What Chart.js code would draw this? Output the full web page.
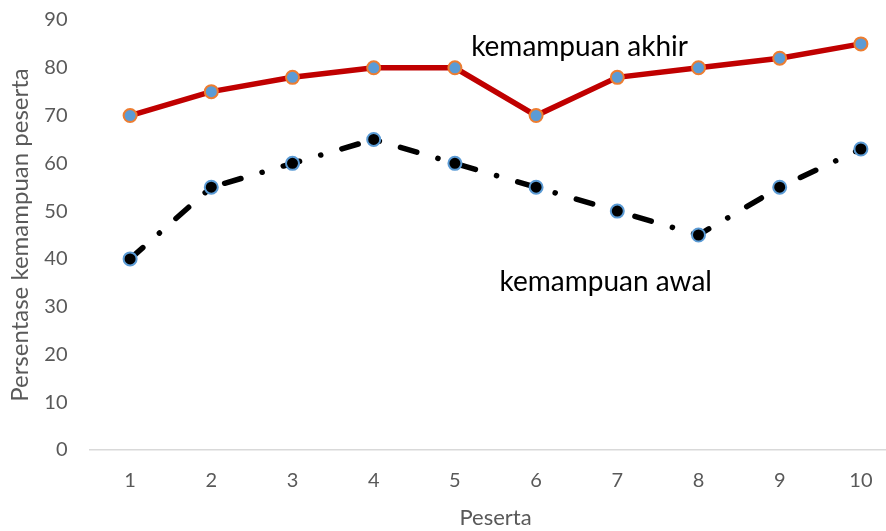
<!DOCTYPE html>
<html>
<head>
<meta charset="utf-8">
<script src="https://cdn.jsdelivr.net/npm/chart.js@4"></script>
<style>
  html, body { margin: 0; padding: 0; background: #fff; overflow: hidden; }
  #wrap { width: 910px; height: 531px; }
</style>
</head>
<body>
<div id="wrap"><canvas id="chart" width="910" height="531"></canvas></div>
<script>
const peserta = ['1', '2', '3', '4', '5', '6', '7', '8', '9', '10']
const kemampuanAkhir = [70, 75, 78, 80, 80, 70, 78, 80, 82, 85]
const kemampuanAwal = [40, 55, 60, 65, 60, 55, 50, 45, 55, 63]

const fontFamily = 'Lato, "Noto Sans", sans-serif'
const textGrey = '#595959'

// labels written straight onto the plot, like the text boxes in the original
const seriesLabels = {
    id: 'seriesLabels',
    afterDatasetsDraw(chart) {
        const { ctx, scales } = chart
        ctx.save()
        ctx.fillStyle = '#000'
        ctx.font = '28px ' + fontFamily
        ctx.textBaseline = 'middle'
        ctx.textAlign = 'left'
        ctx.fillText('kemampuan akhir', scales.x.getPixelForValue(4.2), scales.y.getPixelForValue(84.3))
        ctx.fillText('kemampuan awal', scales.x.getPixelForValue(4.55), scales.y.getPixelForValue(35.2))
        ctx.restore()
    }
}

new Chart(document.getElementById('chart'), {
    type: 'line',
    data: {
        labels: peserta,
        datasets: [{
            label: 'kemampuan akhir',
            data: kemampuanAkhir,
            borderColor: '#C00000',
            borderWidth: 5.5,
            pointBackgroundColor: '#5B9BD5',
            pointBorderColor: '#ED7D31',
            pointBorderWidth: 2,
            pointRadius: 6.5,
            tension: 0
        }, {
            label: 'kemampuan awal',
            data: kemampuanAwal,
            borderColor: '#000',
            borderWidth: 5.5,
            borderCapStyle: 'round',
            borderDash: [17, 22, 0.1, 22],
            pointBackgroundColor: '#000',
            pointBorderColor: '#5B9BD5',
            pointBorderWidth: 2,
            pointRadius: 6.5,
            tension: 0
        }]
    },
    options: {
        responsive: false,
        animation: false,
        layout: { padding: { top: 20, right: 0, left: 0, bottom: 0 } },
        plugins: {
            legend: { display: false },
            tooltip: { enabled: false }
        },
        scales: {
            x: {
                offset: true,
                grid: { display: false, drawTicks: false },
                border: { display: true, color: '#D9D9D9', width: 1.5 },
                ticks: { color: textGrey, font: { family: fontFamily, size: 20 }, padding: 19 },
                title: { display: true, text: 'Peserta', color: textGrey, font: { family: fontFamily, size: 22 }, padding: { top: 4, bottom: 0 } },
                afterFit(scale) { scale.height = 81 }
            },
            y: {
                min: 0,
                max: 90,
                ticks: { stepSize: 10, color: textGrey, font: { family: fontFamily, size: 20 }, padding: 2 },
                // invisible tick marks keep the labels away from the plot without padding the top
                grid: { display: false, drawTicks: true, tickLength: 20, tickColor: 'rgba(0,0,0,0)' },
                border: { display: false },
                title: { display: true, text: 'Persentase kemampuan peserta', color: textGrey, font: { family: fontFamily, size: 24 }, padding: { top: 6, bottom: 0 } },
                afterFit(scale) { scale.width = 89.5 }
            }
        }
    },
    plugins: [seriesLabels]
})
</script>
</body>
</html>
